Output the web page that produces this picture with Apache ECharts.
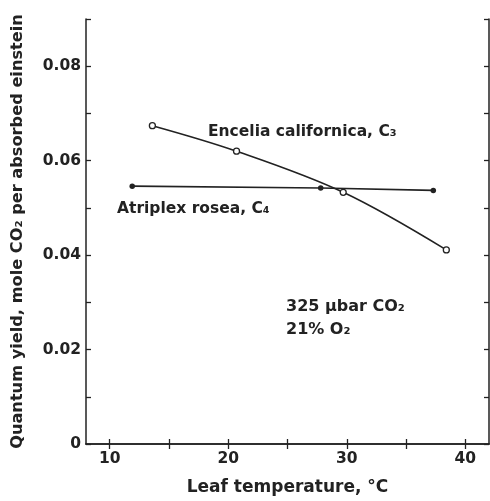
<!DOCTYPE html>
<html>
<head>
<meta charset="utf-8">
<script src="https://cdn.jsdelivr.net/npm/echarts@6/dist/echarts.min.js"></script>
<style>html,body{margin:0;padding:0;background:#fff}#c{width:490px;height:501px}</style>
</head>
<body>
<div id="c"></div>
<script>
// Data
const enceliaX = [13.6, 20.7, 29.7, 38.4];
const enceliaY = [0.0674, 0.0620, 0.0533, 0.0411];
const atriplexX = [11.9, 27.8, 37.3];
const atriplexY = [0.0546, 0.0542, 0.0537];
const xTicks = [10, 15, 20, 25, 30, 35, 40];
const xLabels = [10, 20, 30, 40];
const yLabels = [0, 0.02, 0.04, 0.06, 0.08];

const INK = '#222';
const FONT = 'DejaVu Sans';

const chart = echarts.init(document.getElementById('c'), null, {renderer: 'canvas'});

const axisLineStyle = {show: true, lineStyle: {color: INK, width: 1.5}};
const tickStyle = {show: true, inside: true, length: 5, lineStyle: {color: INK, width: 1.3}};

chart.setOption({
  animation: false,
  backgroundColor: '#fff',
  grid: {left: 86, right: 1, top: 19, bottom: 49, containLabel: false},
  xAxis: [{
    type: 'value', min: 8, max: 42, position: 'bottom',
    axisLine: axisLineStyle,
    axisTick: Object.assign({customValues: xTicks}, tickStyle),
    axisLabel: {customValues: xLabels, color: INK, fontFamily: FONT, fontWeight: 'bold', fontSize: 15.5, margin: 7},
    splitLine: {show: false},
    name: 'Leaf temperature, °C', nameLocation: 'middle', nameGap: 35,
    nameTextStyle: {color: INK, fontFamily: FONT, fontWeight: 'bold', fontSize: 17}
  }, {
    type: 'value', min: 8, max: 42, position: 'top',
    axisLine: axisLineStyle,
    axisTick: Object.assign({customValues: xTicks}, tickStyle),
    axisLabel: {show: false},
    splitLine: {show: false}
  }],
  yAxis: [{
    type: 'value', min: 0, max: 0.09, interval: 0.01, position: 'left',
    axisLine: axisLineStyle,
    axisTick: tickStyle,
    axisLabel: {
      customValues: yLabels,
      color: INK, fontFamily: FONT, fontWeight: 'bold', fontSize: 15.5, margin: 5,
      formatter: v => (v === 0 ? '0' : v.toFixed(2))
    },
    splitLine: {show: false},
    name: 'Quantum yield, mole CO₂ per absorbed einstein', nameLocation: 'middle', nameRotate: 90, nameGap: 60,
    nameTextStyle: {color: INK, fontFamily: FONT, fontWeight: 'bold', fontSize: 16.2}
  }, {
    type: 'value', min: 0, max: 0.09, interval: 0.01, position: 'right',
    axisLine: axisLineStyle,
    axisTick: tickStyle,
    axisLabel: {show: false},
    splitLine: {show: false}
  }],
  series: [{
    name: 'Encelia californica, C3',
    type: 'line',
    smooth: 0.35,
    data: enceliaX.map((x, i) => [x, enceliaY[i]]),
    symbol: 'circle', symbolSize: 6,
    itemStyle: {color: '#fff', borderColor: INK, borderWidth: 1.3},
    lineStyle: {color: INK, width: 1.6},
    z: 3
  }, {
    name: 'Atriplex rosea, C4',
    type: 'line',
    data: atriplexX.map((x, i) => [x, atriplexY[i]]),
    symbol: 'circle', symbolSize: 5.5,
    itemStyle: {color: INK, borderColor: INK, borderWidth: 0},
    lineStyle: {color: INK, width: 1.6},
    z: 2
  }],
  graphic: [
    {type: 'text', left: 208, top: 124, style: {text: 'Encelia californica, C₃', fill: INK, font: 'bold 15.5px "' + FONT + '"'}},
    {type: 'text', left: 117, top: 201, style: {text: 'Atriplex rosea, C₄', fill: INK, font: 'bold 15.5px "' + FONT + '"'}},
    {type: 'text', left: 286, top: 299, style: {text: '325 µbar CO₂', fill: INK, font: 'bold 16px "' + FONT + '"'}},
    {type: 'text', left: 286, top: 322, style: {text: '21% O₂', fill: INK, font: 'bold 16px "' + FONT + '"'}}
  ]
});
</script>
</body>
</html>
